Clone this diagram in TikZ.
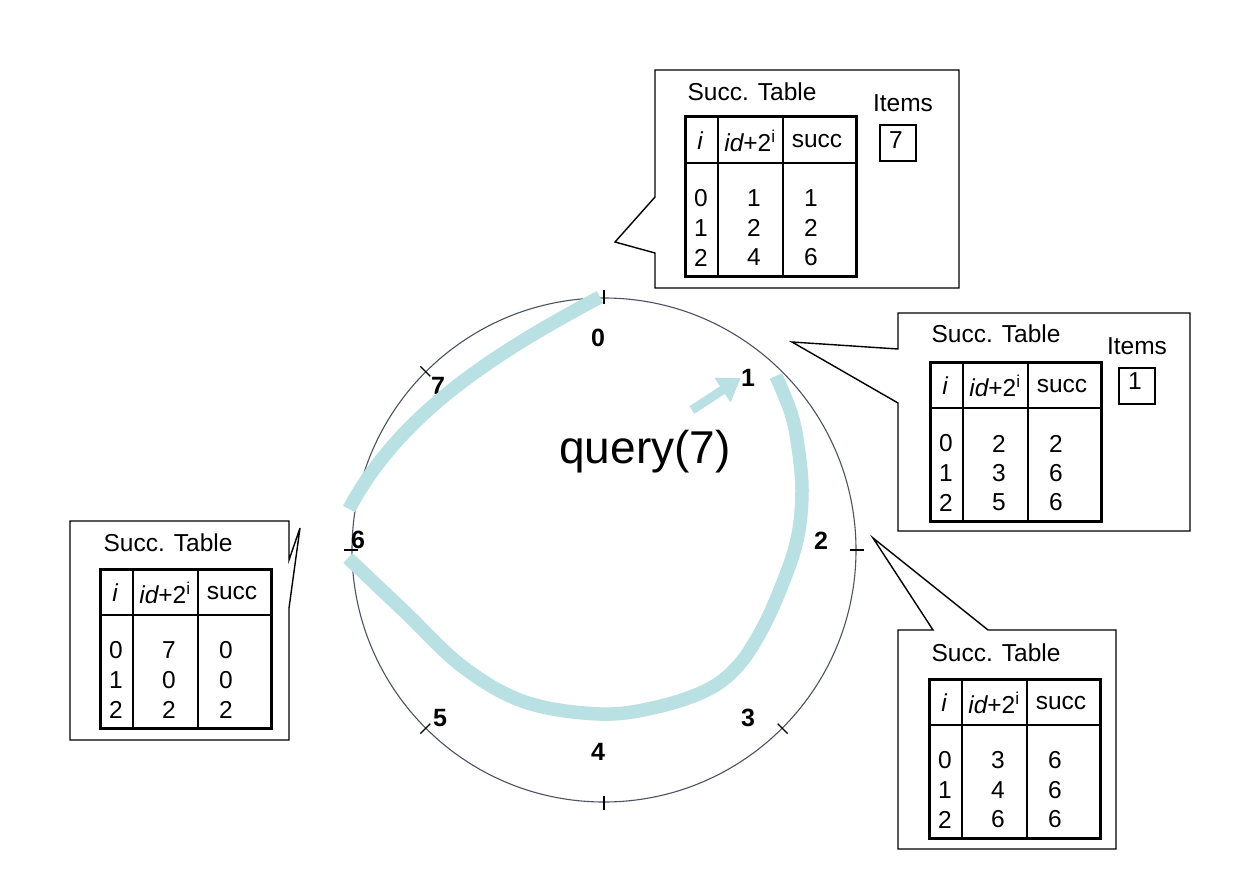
\documentclass[tikz,border=0pt]{standalone}
\usepackage{fontspec}
\setmainfont{Liberation Sans}
\usetikzlibrary{arrows.meta,calc}
\definecolor{pathblue}{HTML}{B9E0E3}
\definecolor{ringcol}{HTML}{4A5264}
\newcommand\fsz[1]{\fontsize{#1}{#1}\selectfont}
\tikzset{
  callout/.style={draw=black, line width=1.4pt, fill=white, line join=miter},
  tblout/.style={draw=black, line width=3pt},
  tblin/.style={draw=black, line width=1.3pt},
  txt/.style={inner sep=0pt, font=\fsz{24.5}},
  lbl/.style={inner sep=0pt, font=\fsz{25}\bfseries},
  tickmark/.style={draw=black, line width=1.2pt},
  route/.style={draw=pathblue, line width=13.5pt, line cap=butt},
}
\newcommand\stab[3]{%
  \begin{scope}[shift={(#2)}]
    \draw[tblin] (0,46) -- (171,46) (33,0) -- (33,159) (98,0) -- (98,159);
    \draw[tblout] (0,0) rectangle (171,159);
    \node[txt] (#1-hi) at (15,24) {\itshape i};
    \node[txt] (#1-hid) at (65,24) {\itshape id\upshape+2\textsuperscript{i}};
    \node[txt] (#1-hs) at (132,24) {succ};
    \foreach \a/\b/\c [count=\k] in {#3} {
      \pgfmathsetmacro\yy{52+29.5*\k}
      \node[txt] (#1-r\k-a) at (16,\yy) {\a};
      \node[txt] (#1-r\k-b) at (69,\yy) {\b};
      \node[txt] (#1-r\k-c) at (126,\yy) {\c};
    }
  \end{scope}}
\begin{document}
\begin{tikzpicture}[x=1pt,y=-1pt]
\useasboundingbox (0,0) rectangle (1255,880);
% ring
\node[draw=ringcol, line width=1.1pt, circle, minimum size=504pt, inner sep=0pt] (ring) at (604,550) {};
\foreach \ang in {90,135,180,225,270,315,0}
  \draw[tickmark] ([shift={(\ang:7pt)}]ring.\ang) -- ([shift={(\ang:-7pt)}]ring.\ang);
% labels
\node[lbl] (n0) at (598,338) {0};
\node[lbl] (n1) at (748,378) {1};
\node[lbl] (n2) at (821,541) {2};
\node[lbl] (n3) at (748,718) {3};
\node[lbl] (n4) at (598,752) {4};
\node[lbl] (n5) at (440,718) {5};
\node[lbl] (n6) at (358,540) {6};
\node[lbl] (n7) at (438,386) {7};
% routes
\draw[route] (600,297) .. controls (495,353) and (400,413) .. (349,509);
\draw[route] plot[smooth, tension=0.6] coordinates {(776,376) (790,410) (797,440) (802,490) (797,540) (780,590) (760,633) (737,667) (707,690) (657,707) (600,714) (525,702) (463,667) (405,612) (348,558)};
\coordinate (qtail) at (692,410);
\draw[draw=pathblue, line width=9pt, -{Triangle[width=28pt,length=22pt]}] (qtail) -- (n1.west);
\node[inner sep=0pt, font=\fsz{46}] (query) at (645,452) {query(7)};
% top callout
\draw[callout] (655,70) -- (959,70) -- (959,288) -- (655,288) -- (655,253) -- (615,242) -- (655,197) -- cycle;
\node[txt] (t-title) at (752,92) {Succ. Table};
\node[txt] (t-items) at (903,103) {Items};
\node[draw, line width=2.2pt, minimum size=36pt, inner sep=0pt] (t-box) at (898,143) {};
\node[txt] (t-item) at (896,140) {7};
\stab{t}{685,117}{0/1/1,1/2/2,2/4/6}
% right callout
\draw[callout] (898,313) -- (1190,313) -- (1190,531) -- (898,531) -- (898,403) -- (792,342) -- (898,349) -- cycle;
\node[txt] (r-title) at (996,334) {Succ. Table};
\node[txt] (r-items) at (1137,346) {Items};
\node[draw, line width=2.2pt, minimum size=36pt, inner sep=0pt] (r-box) at (1137,386) {};
\node[txt] (r-item) at (1135,381) {1};
\stab{r}{930,362}{0/2/2,1/3/6,2/5/6}
% bottom right callout
\draw[callout] (898,630) -- (933,630) -- (873,538) -- (988,630) -- (1116,630) -- (1116,849) -- (898,849) -- cycle;
\node[txt] (b-title) at (996,653) {Succ. Table};
\stab{b}{929,679}{0/3/6,1/4/6,2/6/6}
% left callout
\draw[callout] (70,521) -- (289,521) -- (289,560) -- (300,528) -- (289,608) -- (289,740) -- (70,740) -- cycle;
\node[txt] (l-title) at (168,543) {Succ. Table};
\stab{l}{100,569}{0/7/0,1/0/0,2/2/2}
\end{tikzpicture}
\end{document}
